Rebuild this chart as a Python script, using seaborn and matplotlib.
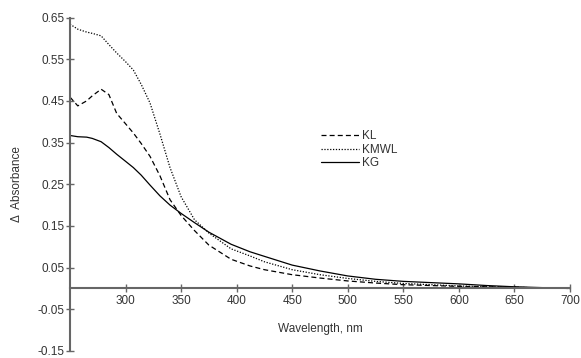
import pandas as pd
import matplotlib
matplotlib.use('Agg')
import matplotlib.pyplot as plt
import seaborn as sns

# wavelength grid (nm)
wavelength = [250, 257, 265, 270, 278, 285, 292, 300, 307, 314, 322, 331, 340, 350, 362,
              375, 395, 412, 425, 450, 475, 500, 525, 550, 575, 600, 625, 650, 675, 700]

kl = [0.459, 0.438, 0.450, 0.462, 0.478, 0.465, 0.420, 0.395, 0.373, 0.348, 0.317, 0.270,
      0.213, 0.175, 0.139, 0.104, 0.070, 0.054, 0.045, 0.033, 0.025, 0.018, 0.013, 0.009,
      0.007, 0.005, 0.004, 0.003, 0.001, 0.000]
kmwl = [0.634, 0.622, 0.615, 0.612, 0.606, 0.585, 0.565, 0.544, 0.524, 0.490, 0.445, 0.370,
        0.290, 0.220, 0.165, 0.133, 0.095, 0.078, 0.064, 0.045, 0.033, 0.024, 0.017, 0.012,
        0.009, 0.006, 0.004, 0.003, 0.001, 0.000]
kg = [0.367, 0.364, 0.363, 0.360, 0.352, 0.338, 0.322, 0.305, 0.290, 0.272, 0.248, 0.222,
      0.200, 0.180, 0.158, 0.135, 0.106, 0.088, 0.077, 0.056, 0.042, 0.030, 0.022, 0.017,
      0.014, 0.011, 0.007, 0.004, 0.002, 0.000]

series_names = ['KL', 'KMWL', 'KG']
y_ticks = [-0.15, -0.05, 0.05, 0.15, 0.25, 0.35, 0.45, 0.55, 0.65]
x_ticks = [300, 350, 400, 450, 500, 550, 600, 650, 700]

df = pd.concat([
    pd.DataFrame({'wavelength': wavelength, 'absorbance': vals, 'sample': name})
    for name, vals in zip(series_names, [kl, kmwl, kg])
])

sns.set_style('white')
plt.rcParams['font.family'] = ['Liberation Sans', 'DejaVu Sans']
axis_col = '#666666'
text_col = '#333333'

fig = plt.figure(figsize=(5.81, 3.58), dpi=100)
ax = fig.add_axes([0.1205, 0.0196, 0.8605, 0.9315])

sns.lineplot(data=df, x='wavelength', y='absorbance', style='sample',
             style_order=series_names,
             dashes={'KL': (4, 2.5), 'KMWL': (1, 1.3), 'KG': ''},
             color='black', linewidth=0.9, ax=ax, sort=False)

ax.set_xlim(250, 700)
ax.set_ylim(-0.15, 0.65)
ax.set_xticks(x_ticks)
ax.set_yticks(y_ticks)
ax.set_yticklabels([f'{t:.2f}' for t in y_ticks])

for side in ['top', 'right']:
    ax.spines[side].set_visible(False)
ax.spines['bottom'].set_position(('data', 0))
for side in ['left', 'bottom']:
    ax.spines[side].set_color(axis_col)
    ax.spines[side].set_linewidth(1.5)

ax.tick_params(axis='both', direction='inout', length=6, width=1, color=axis_col,
               bottom=True, left=True, labelsize=8.5, labelcolor=text_col, pad=2)
ax.tick_params(axis='y', pad=1)

ax.set_xlabel('Wavelength, nm', fontsize=8.5, color=text_col)
ax.xaxis.set_label_coords(0.5, 0.085)
ax.set_ylabel('Δ  Absorbance', fontsize=8.5, color=text_col)
ax.yaxis.set_label_coords(-0.094, 0.5)

ax.legend(title=None, frameon=False, loc='upper left',
          bbox_to_anchor=(315 / 581, 1 - 124 / 358), bbox_transform=fig.transFigure,
          fontsize=8.5, handlelength=3.2, handletextpad=0.3, labelspacing=0.15,
          borderpad=0, labelcolor=text_col)

fig.savefig('out.png', dpi=100)
